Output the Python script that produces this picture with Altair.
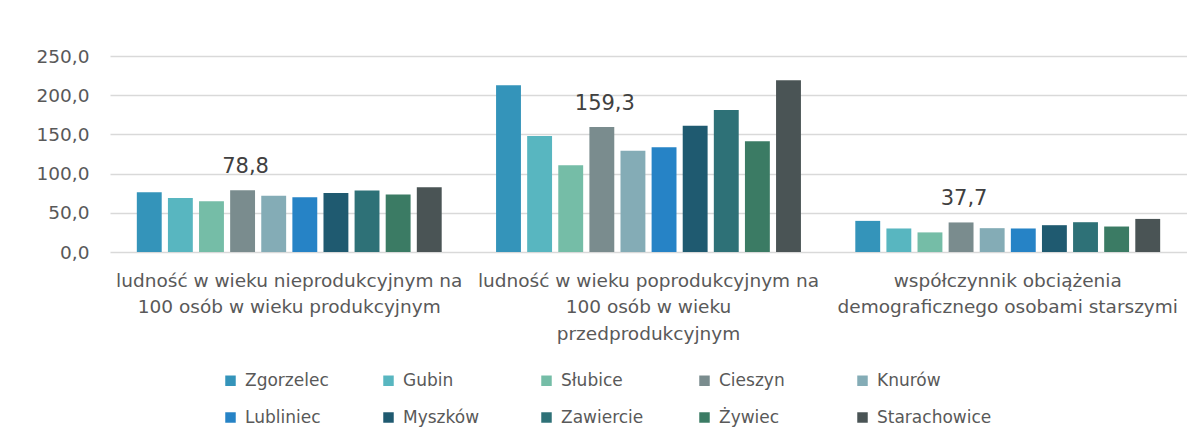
import altair as alt
import pandas as pd

series = ["Zgorzelec", "Gubin", "Słubice", "Cieszyn", "Knurów",
          "Lubliniec", "Myszków", "Zawiercie", "Żywiec", "Starachowice"]
colors = ["#3494BA", "#58B6C0", "#75BDA7", "#7A8C8E", "#84ACB6",
          "#2683C6", "#1F5A70", "#2E7177", "#3B7B64", "#4A5455"]

categories = [
    "ludność w wieku nieprodukcyjnym na\n100 osób w wieku produkcyjnym",
    "ludność w wieku poprodukcyjnym na\n100 osób w wieku\nprzedprodukcyjnym",
    "współczynnik obciążenia\ndemograficznego osobami starszymi",
]

nieprodukcyjny = [76.1, 68.9, 64.6, 78.8, 71.8, 69.7, 75.2, 78.5, 73.5, 82.5]
poprodukcyjny = [212.6, 148.0, 110.6, 159.3, 129.2, 133.5, 161.1, 181.1, 141.2, 219.0]
obciazenie = [39.7, 30.0, 25.0, 37.7, 30.4, 30.0, 34.2, 38.0, 32.5, 42.2]

y_ticks = [0, 50, 100, 150, 200, 250]

rows = []
for cat, vals in zip(categories, [nieprodukcyjny, poprodukcyjny, obciazenie]):
    for s, v in zip(series, vals):
        rows.append({"category": cat, "series": s, "value": v})
df = pd.DataFrame(rows)

FONT = "DejaVu Sans"
TXT = "#595959"

base = alt.Chart(df).encode(
    x=alt.X("category:N", sort=categories,
            scale=alt.Scale(paddingInner=0.134, paddingOuter=0.066),
            axis=alt.Axis(title=None, labelAngle=0, ticks=False, domain=False,
                          labelExpr="split(datum.label, '\\n')",
                          labelFontSize=18.5, labelLineHeight=26.5,
                          labelPadding=19, labelLimit=500, labelColor=TXT,
                          labelFont=FONT, labelBaseline="top")),
    xOffset=alt.XOffset("series:N", sort=series,
                        scale=alt.Scale(paddingInner=0.2, paddingOuter=0.1)),
    y=alt.Y("value:Q", scale=alt.Scale(domain=[0, 250], nice=False),
            axis=alt.Axis(title=None, values=y_ticks, tickCount=6,
                          domain=False, ticks=False, labelOverlap=False,
                          labelExpr="replace(format(datum.value, '.1f'), '.', ',')",
                          labelFontSize=18.5, labelColor=TXT, labelFont=FONT,
                          labelPadding=21, gridColor="#D9D9D9", gridWidth=1.3)),
)

bars = base.mark_bar().encode(
    color=alt.Color("series:N", sort=series,
                    scale=alt.Scale(domain=series, range=colors),
                    legend=alt.Legend(title=None, orient="none", legendX=112,
                                      legendY=316, columns=5, gridAlign="all",
                                      direction="horizontal",
                                      symbolType="square", symbolSize=110,
                                      symbolStrokeWidth=0,
                                      labelFontSize=17, labelFont=FONT,
                                      labelColor=TXT, labelOffset=6,
                                      columnPadding=20, rowPadding=19,
                                      labelLimit=300)),
)

labels = base.transform_filter(
    alt.datum.series == "Cieszyn"
).transform_calculate(
    lbl="replace(format(datum.value, '.1f'), '.', ',')"
).mark_text(dy=-17, dx=3, baseline="alphabetic", fontSize=21, font=FONT,
            color="#404040").encode(
    text="lbl:N",
)

chart = alt.layer(bars, labels).properties(
    width=1077, height=196,
    autosize=alt.AutoSizeParams(type="none"),
    padding={"left": 102, "top": 48, "right": 0, "bottom": 176},
).configure_view(stroke=None)

chart.save("out.html", embed_options={"renderer": "svg", "actions": False})
